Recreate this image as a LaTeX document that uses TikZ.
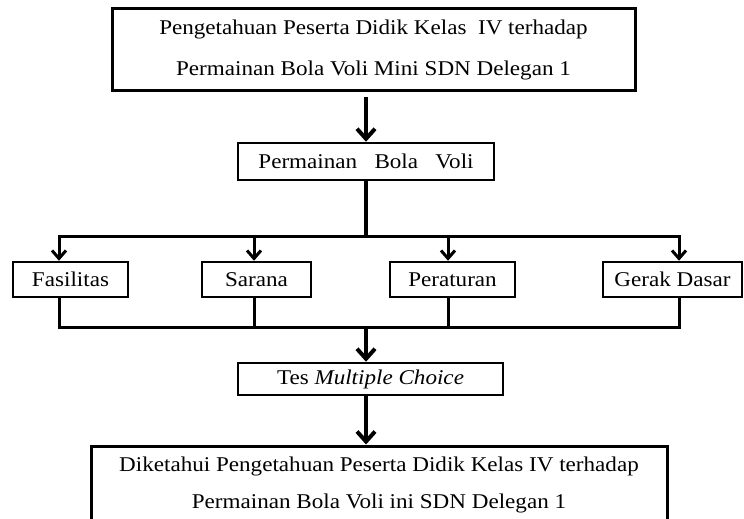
\documentclass[tikz,border=0pt]{standalone}
\usepackage{fontspec}
\setmainfont{Liberation Serif}[FakeStretch=1.1]
\usetikzlibrary{arrows.meta}
\tikzset{
  box/.style={draw, line width=2.5pt, inner sep=0pt, align=center,
    font=\fontsize{21pt}{41pt}\selectfont},
  thickln/.style={line width=4pt},
  thinln/.style={line width=3pt},
  bigtip/.style={-{Straight Barb[length=10pt,width=18pt]}},
  smalltip/.style={-{Straight Barb[length=8pt,width=14pt]}},
}
\begin{document}
\begin{tikzpicture}[x=1pt,y=-1pt]
\useasboundingbox (0,0) rectangle (744,519);
% boxes
\node[box, line width=3pt, minimum width=523pt, minimum height=81pt] (top) at (373.5,49.5)
  {Pengetahuan Peserta Didik Kelas\ \ IV terhadap\\Permainan Bola Voli Mini SDN Delegan 1};
\node[box, minimum width=256pt, minimum height=37pt] (pbv) at (366,161.5)
  {Permainan\ \ \ Bola\ \ \ Voli};
\node[box, minimum width=115pt, minimum height=35pt] (fas) at (70.5,279.5) {Fasilitas};
\node[box, minimum width=109pt, minimum height=35pt] (sar) at (256.5,279.5) {Sarana};
\node[box, minimum width=125pt, minimum height=35pt] (per) at (452.5,279.5) {Peraturan};
\node[box, minimum width=139pt, minimum height=35pt] (ger) at (672.5,279.5) {Gerak Dasar};
\node[box, minimum width=265pt, minimum height=32pt] (tes) at (370.5,379) {Tes \textit{Multiple Choice}};
\node[box, line width=3pt, minimum width=576pt, minimum height=77pt,
  font=\fontsize{21pt}{37pt}\selectfont] (hasil) at (379,484.5)
  {Diketahui Pengetahuan Peserta Didik Kelas IV terhadap\\Permainan Bola Voli ini SDN Delegan 1};
% junction coordinates
\coordinate (a1) at (366,97);
\coordinate (up) at (366,236);
\coordinate (u1) at (59,236);
\coordinate (u2) at (254,236);
\coordinate (u3) at (448,236);
\coordinate (u4) at (679,236);
\coordinate (dn) at (366,327);
\coordinate (d1) at (59,327);
\coordinate (d2) at (254,327);
\coordinate (d3) at (448,327);
\coordinate (d4) at (679,327);
% connectors
\draw[thickln, bigtip] (a1) -- (a1 |- pbv.north);
\draw[thickln] (pbv.south) -- (up);
\draw[thinln, line cap=rect] (u1) -- (u4);
\draw[thinln, smalltip] (u1) -- (u1 |- fas.north);
\draw[thinln, smalltip] (u2) -- (u2 |- sar.north);
\draw[thinln, smalltip] (u3) -- (u3 |- per.north);
\draw[thinln, smalltip] (u4) -- (u4 |- ger.north);
\draw[thinln] (d1 |- fas.south) -- (d1);
\draw[thinln] (d2 |- sar.south) -- (d2);
\draw[thinln] (d3 |- per.south) -- (d3);
\draw[thinln] (d4 |- ger.south) -- (d4);
\draw[thinln, line cap=rect] (d1) -- (d4);
\draw[thickln, bigtip] (dn) -- (dn |- tes.north);
\draw[thickln, bigtip] (tes.south -| dn) -- (dn |- hasil.north);
\end{tikzpicture}
\end{document}
